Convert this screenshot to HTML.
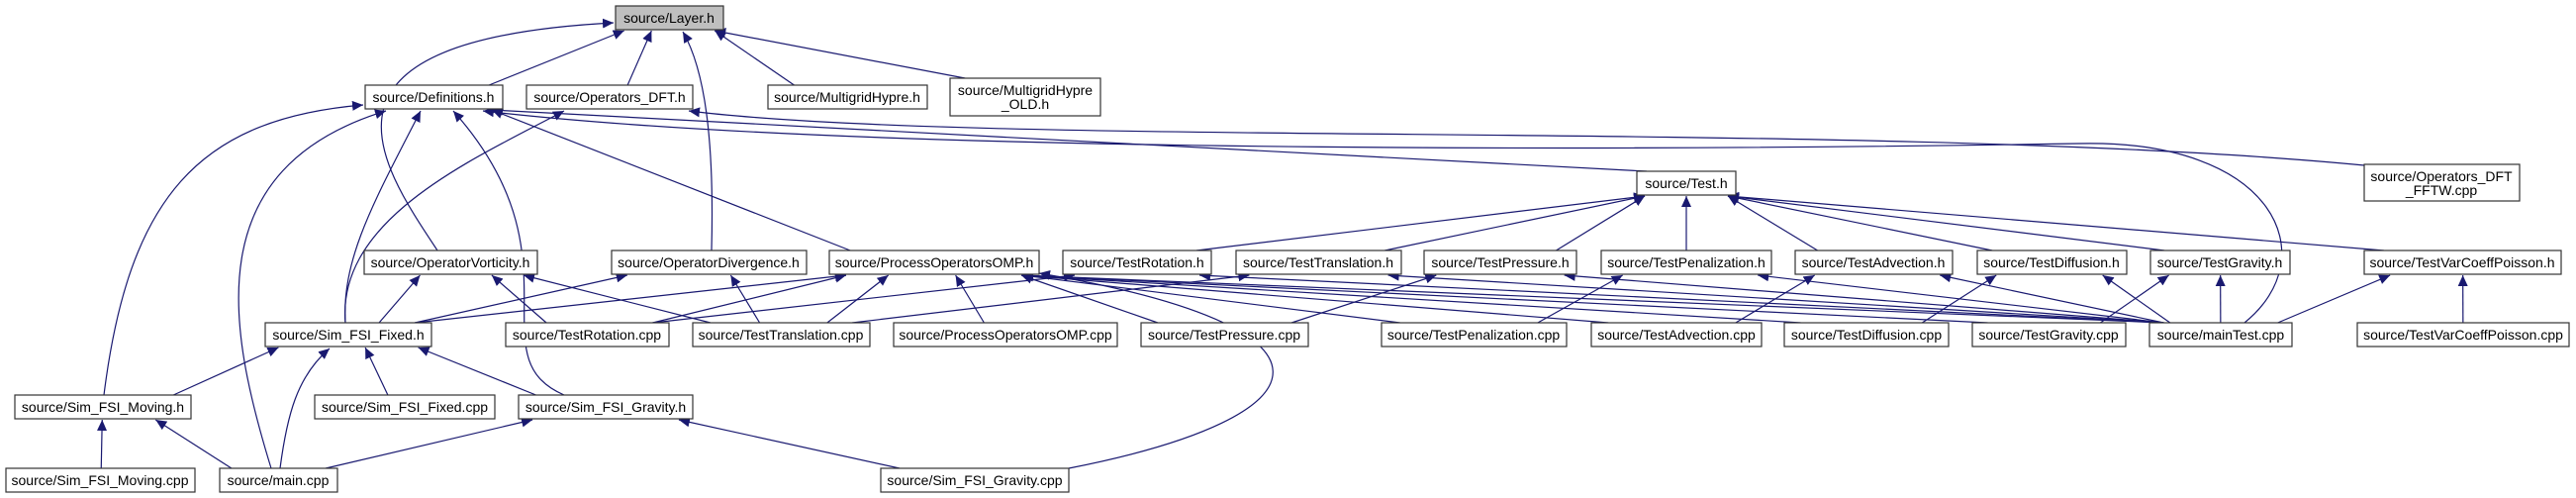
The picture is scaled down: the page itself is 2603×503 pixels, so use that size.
<!DOCTYPE html>
<html><head><meta charset="utf-8"><style>
html,body{margin:0;padding:0;background:#fff;}
svg{display:block;}
text{font-family:"Liberation Sans",sans-serif;font-size:14px;fill:#000;}
</style></head><body>
<svg id="g" width="2603" height="503" xmlns="http://www.w3.org/2000/svg">
<defs><marker id="a" markerUnits="userSpaceOnUse" markerWidth="12" markerHeight="10" refX="11" refY="5" orient="auto"><path d="M0,0 L11,5 L0,10 z" fill="#191970"/></marker></defs>
<g id="edges" fill="none" stroke="#191970" stroke-width="1.2"></g>
<g id="nodes" stroke="#333" stroke-width="1.2">
<rect x="622" y="6" width="109" height="24" fill="#bfbfbf"/><text x="676" y="23" text-anchor="middle" stroke="none">source/Layer.h</text>
<rect x="369" y="86" width="139" height="24" fill="#fff"/><text x="438" y="103" text-anchor="middle" stroke="none">source/Definitions.h</text>
<rect x="532" y="86" width="168" height="24" fill="#fff"/><text x="616" y="103" text-anchor="middle" stroke="none">source/Operators_DFT.h</text>
<rect x="776" y="86" width="161" height="24" fill="#fff"/><text x="856" y="103" text-anchor="middle" stroke="none">source/MultigridHypre.h</text>
<rect x="960" y="79" width="152" height="38" fill="#fff"/><text x="1036" y="96" text-anchor="middle" stroke="none">source/MultigridHypre</text><text x="1036" y="110" text-anchor="middle" stroke="none">_OLD.h</text>
<rect x="1654" y="173" width="100" height="24" fill="#fff"/><text x="1704" y="190" text-anchor="middle" stroke="none">source/Test.h</text>
<rect x="2389" y="166" width="157" height="37" fill="#fff"/><text x="2467" y="183" text-anchor="middle" stroke="none">source/Operators_DFT</text><text x="2467" y="197" text-anchor="middle" stroke="none">_FFTW.cpp</text>
<rect x="368" y="253" width="175" height="24" fill="#fff"/><text x="455" y="270" text-anchor="middle" stroke="none">source/OperatorVorticity.h</text>
<rect x="618" y="253" width="197" height="24" fill="#fff"/><text x="716" y="270" text-anchor="middle" stroke="none">source/OperatorDivergence.h</text>
<rect x="838" y="253" width="212" height="24" fill="#fff"/><text x="944" y="270" text-anchor="middle" stroke="none">source/ProcessOperatorsOMP.h</text>
<rect x="1074" y="253" width="150" height="24" fill="#fff"/><text x="1149" y="270" text-anchor="middle" stroke="none">source/TestRotation.h</text>
<rect x="1249" y="253" width="167" height="24" fill="#fff"/><text x="1332" y="270" text-anchor="middle" stroke="none">source/TestTranslation.h</text>
<rect x="1439" y="253" width="154" height="24" fill="#fff"/><text x="1516" y="270" text-anchor="middle" stroke="none">source/TestPressure.h</text>
<rect x="1618" y="253" width="172" height="24" fill="#fff"/><text x="1704" y="270" text-anchor="middle" stroke="none">source/TestPenalization.h</text>
<rect x="1814" y="253" width="159" height="24" fill="#fff"/><text x="1893" y="270" text-anchor="middle" stroke="none">source/TestAdvection.h</text>
<rect x="1998" y="253" width="151" height="24" fill="#fff"/><text x="2073" y="270" text-anchor="middle" stroke="none">source/TestDiffusion.h</text>
<rect x="2173" y="253" width="141" height="24" fill="#fff"/><text x="2243" y="270" text-anchor="middle" stroke="none">source/TestGravity.h</text>
<rect x="2389" y="253" width="199" height="24" fill="#fff"/><text x="2488" y="270" text-anchor="middle" stroke="none">source/TestVarCoeffPoisson.h</text>
<rect x="268" y="326" width="168" height="24" fill="#fff"/><text x="352" y="343" text-anchor="middle" stroke="none">source/Sim_FSI_Fixed.h</text>
<rect x="511" y="326" width="165" height="24" fill="#fff"/><text x="593" y="343" text-anchor="middle" stroke="none">source/TestRotation.cpp</text>
<rect x="700" y="326" width="179" height="24" fill="#fff"/><text x="789" y="343" text-anchor="middle" stroke="none">source/TestTranslation.cpp</text>
<rect x="903" y="326" width="226" height="24" fill="#fff"/><text x="1016" y="343" text-anchor="middle" stroke="none">source/ProcessOperatorsOMP.cpp</text>
<rect x="1153" y="326" width="169" height="24" fill="#fff"/><text x="1237" y="343" text-anchor="middle" stroke="none">source/TestPressure.cpp</text>
<rect x="1396" y="326" width="187" height="24" fill="#fff"/><text x="1489" y="343" text-anchor="middle" stroke="none">source/TestPenalization.cpp</text>
<rect x="1608" y="326" width="172" height="24" fill="#fff"/><text x="1694" y="343" text-anchor="middle" stroke="none">source/TestAdvection.cpp</text>
<rect x="1803" y="326" width="166" height="24" fill="#fff"/><text x="1886" y="343" text-anchor="middle" stroke="none">source/TestDiffusion.cpp</text>
<rect x="1993" y="326" width="155" height="24" fill="#fff"/><text x="2070" y="343" text-anchor="middle" stroke="none">source/TestGravity.cpp</text>
<rect x="2172" y="326" width="144" height="24" fill="#fff"/><text x="2244" y="343" text-anchor="middle" stroke="none">source/mainTest.cpp</text>
<rect x="2382" y="326" width="214" height="24" fill="#fff"/><text x="2489" y="343" text-anchor="middle" stroke="none">source/TestVarCoeffPoisson.cpp</text>
<rect x="15" y="399" width="178" height="24" fill="#fff"/><text x="104" y="416" text-anchor="middle" stroke="none">source/Sim_FSI_Moving.h</text>
<rect x="318" y="399" width="182" height="24" fill="#fff"/><text x="409" y="416" text-anchor="middle" stroke="none">source/Sim_FSI_Fixed.cpp</text>
<rect x="524" y="399" width="176" height="24" fill="#fff"/><text x="612" y="416" text-anchor="middle" stroke="none">source/Sim_FSI_Gravity.h</text>
<rect x="6" y="473" width="191" height="24" fill="#fff"/><text x="101" y="490" text-anchor="middle" stroke="none">source/Sim_FSI_Moving.cpp</text>
<rect x="222" y="473" width="119" height="24" fill="#fff"/><text x="281" y="490" text-anchor="middle" stroke="none">source/main.cpp</text>
<rect x="890" y="473" width="190" height="24" fill="#fff"/><text x="985" y="490" text-anchor="middle" stroke="none">source/Sim_FSI_Gravity.cpp</text>
</g>
</svg>
<script>
var N={};
document.querySelectorAll('#nodes rect').forEach(function(r){var t=r.nextElementSibling.textContent.replace('source/','');
N[t]={x:+r.getAttribute('x'),y:+r.getAttribute('y'),w:+r.getAttribute('width'),h:+r.getAttribute('height')};});
N['MultigridHypre_OLD.h']=N['MultigridHypre'];N['Operators_DFT_FFTW.cpp']=N['Operators_DFT'];
var E=[
['Definitions.h','Layer.h'],['Operators_DFT.h','Layer.h'],['MultigridHypre.h','Layer.h'],['MultigridHypre_OLD.h','Layer.h'],
['ProcessOperatorsOMP.h','Definitions.h'],['Test.h','Definitions.h'],
['TestRotation.h','Test.h'],['TestTranslation.h','Test.h'],['TestPressure.h','Test.h'],['TestPenalization.h','Test.h'],['TestAdvection.h','Test.h'],['TestDiffusion.h','Test.h'],['TestGravity.h','Test.h'],['TestVarCoeffPoisson.h','Test.h'],
['Sim_FSI_Fixed.h','OperatorVorticity.h'],['TestRotation.cpp','OperatorVorticity.h'],['TestTranslation.cpp','OperatorVorticity.h'],
['Sim_FSI_Fixed.h','OperatorDivergence.h'],['TestTranslation.cpp','OperatorDivergence.h'],
['Sim_FSI_Fixed.h','ProcessOperatorsOMP.h'],['TestRotation.cpp','ProcessOperatorsOMP.h'],['TestTranslation.cpp','ProcessOperatorsOMP.h'],['ProcessOperatorsOMP.cpp','ProcessOperatorsOMP.h'],['TestPressure.cpp','ProcessOperatorsOMP.h'],['TestPenalization.cpp','ProcessOperatorsOMP.h'],['TestAdvection.cpp','ProcessOperatorsOMP.h'],['TestDiffusion.cpp','ProcessOperatorsOMP.h'],['TestGravity.cpp','ProcessOperatorsOMP.h'],['mainTest.cpp','ProcessOperatorsOMP.h'],
['TestRotation.cpp','TestRotation.h'],['mainTest.cpp','TestRotation.h'],['TestTranslation.cpp','TestTranslation.h'],['mainTest.cpp','TestTranslation.h'],
['TestPressure.cpp','TestPressure.h'],['mainTest.cpp','TestPressure.h'],['TestPenalization.cpp','TestPenalization.h'],['mainTest.cpp','TestPenalization.h'],
['TestAdvection.cpp','TestAdvection.h'],['mainTest.cpp','TestAdvection.h'],['TestDiffusion.cpp','TestDiffusion.h'],['mainTest.cpp','TestDiffusion.h'],
['TestGravity.cpp','TestGravity.h'],['mainTest.cpp','TestGravity.h'],['TestVarCoeffPoisson.cpp','TestVarCoeffPoisson.h'],['mainTest.cpp','TestVarCoeffPoisson.h'],
['Sim_FSI_Moving.h','Sim_FSI_Fixed.h'],['Sim_FSI_Fixed.cpp','Sim_FSI_Fixed.h'],['Sim_FSI_Gravity.h','Sim_FSI_Fixed.h'],
['Sim_FSI_Moving.cpp','Sim_FSI_Moving.h'],['main.cpp','Sim_FSI_Moving.h'],['main.cpp','Sim_FSI_Gravity.h'],['Sim_FSI_Gravity.cpp','Sim_FSI_Gravity.h']
];
var P=[
'M442,253 C380,160 300,40 620,23',
'M719,253 C722,140 712,70 690,32',
'M105,399 C130,200 200,120 367,106',
'M274,473 C230,330 200,170 390,112',
'M570,399 C480,360 590,260 458,112',
'M349,326 C345,260 380,200 425,112',
'M283,473 C290,420 300,380 333,352',
'M2268,326 C2350,260 2300,140 2100,145 C1800,150 900,160 488,112',
'M349,326 C340,220 480,160 570,112',
'M2389,167 C1900,120 1000,150 696,112',
'M1080,473 C1350,420 1370,330 1050,276'
];
var G=document.getElementById('edges'),s='';
E.forEach(function(e){var a=N[e[0]],b=N[e[1]];if(!a||!b)return;
var ac=a.x+a.w/2,bc=b.x+b.w/2;
var sx=ac+Math.max(-a.w*0.4,Math.min(a.w*0.4,(bc-ac)*0.3));
var tx=bc+Math.max(-b.w*0.42,Math.min(b.w*0.42,(ac-bc)*0.3));
s+='<path d="M'+sx+','+a.y+' L'+tx+','+(b.y+b.h+1)+'" marker-end="url(#a)"/>';});
P.forEach(function(p){s+='<path d="'+p+'" marker-end="url(#a)"/>';});
G.innerHTML=s;
</script>
</body></html>
